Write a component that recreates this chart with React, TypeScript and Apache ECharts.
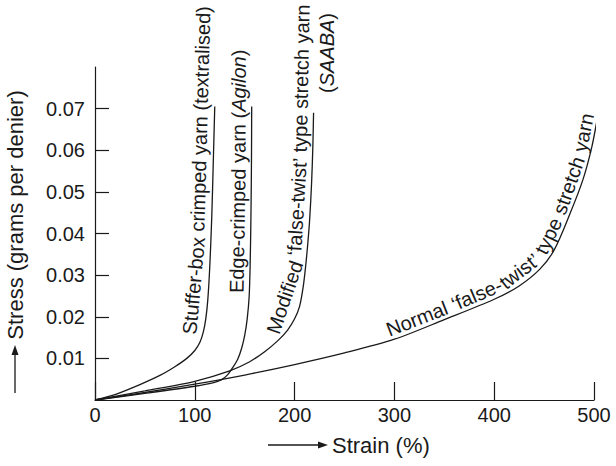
import React, { useEffect, useRef } from 'react';
import * as echarts from 'echarts';

// Stress (grams per denier) vs strain (%)
const stufferBox: number[][] = [[0,0],[20,0.0013],[45,0.0037],[65,0.0059],[80,0.008],[92,0.0100],[100,0.0119],[105,0.0138],[108.5,0.0163],[111,0.0195],[113,0.024],[115,0.032],[117,0.044],[118.5,0.057],[120,0.0705]];
const edgeCrimped: number[][] = [[0,0],[50,0.0016],[100,0.0033],[118,0.0041],[127,0.0049],[133,0.0061],[138,0.0078],[143,0.0098],[147,0.0125],[150,0.0155],[152.5,0.0195],[154.5,0.025],[155.5,0.033],[156.3,0.045],[156.8,0.058],[157,0.0705]];
const modifiedFalseTwist: number[][] = [[0,0],[50,0.0022],[100,0.0045],[135,0.0070],[155,0.0092],[170,0.0116],[183,0.0142],[193,0.0168],[200,0.0195],[205,0.0225],[208.5,0.027],[211,0.032],[213,0.037],[215,0.043],[217,0.052],[218.3,0.061],[219,0.069]];
const normalFalseTwist: number[][] = [[0,0],[50,0.0018],[100,0.0038],[150,0.006],[200,0.0085],[250,0.0113],[300,0.0146],[350,0.0193],[400,0.0242],[425,0.0274],[446,0.0315],[460,0.0360],[476,0.0448],[489,0.0530],[498,0.061],[504,0.0686]];

const yTicks = [0.01, 0.02, 0.03, 0.04, 0.05, 0.06, 0.07];
const xMax = 500;
const yMax = 0.08;

// A word: its parts [text, italic]; "join" means no space before the next word
type Part = [string, boolean];
type Word = { parts: Part[]; join?: boolean };
const w = (t: string, join = false): Word => ({ parts: [[t, false]], join });
const curveLabels: { curve: number[][]; startY: number; offset: number; words: Word[] }[] = [
  { curve: stufferBox, startY: 0.0149, offset: 14, words: [w('Stuffer-box'), w('crimped'), w('yarn'), w('(textralised)')] },
  { curve: edgeCrimped, startY: 0.026, offset: 13, words: [w('Edge-crimped'), w('yarn'), { parts: [['(', false], ['Agilon', true], [')', false]] }] },
  { curve: modifiedFalseTwist, startY: 0.0145, offset: 13, words: [w('Modified'), w('\u2018false-twist\u2019'), w('type'), w('stretch'), w('yarn')] },
  { curve: normalFalseTwist, startY: 0.0146, offset: 11, words: [w('Normal'), w('\u2018false-', true), w('twist\u2019'), w('type'), w('stretch'), w('yarn')] },
];

const FONT = '"Liberation Sans", Arial, Helvetica, sans-serif';
const INK = '#1a1a1a';
const LABEL_SIZE = 20;

function smoothPts(p: number[][], n = 12): number[][] {
  const out: number[][] = [];
  for (let i = 0; i < p.length - 1; i++) {
    const p0 = p[Math.max(0, i - 1)], p1 = p[i], p2 = p[i + 1], p3 = p[Math.min(p.length - 1, i + 2)];
    for (let k = 0; k < n; k++) {
      const t = k / n, t2 = t * t, t3 = t2 * t;
      const f = (a: number, b: number, c: number, d: number) =>
        0.5 * (2 * b + (-a + c) * t + (2 * a - 5 * b + 4 * c - d) * t2 + (-a + 3 * b - 3 * c + d) * t3);
      out.push([f(p0[0], p1[0], p2[0], p3[0]), f(p0[1], p1[1], p2[1], p3[1])]);
    }
  }
  out.push(p[p.length - 1]);
  return out;
}

export default function App() {
  const ref = useRef<HTMLDivElement>(null);
  useEffect(() => {
    const chart = echarts.init(ref.current!, null, { renderer: 'svg' });
    const mkSeries = (name: string, data: number[][]) => ({
      name, type: 'line', data, smooth: 0.3, symbol: 'none', showSymbol: false, clip: false, silent: true,
      lineStyle: { color: INK, width: 1.3 },
    });
    chart.setOption({
      animation: false,
      backgroundColor: '#ffffff',
      grid: { left: 95, right: 22, top: 67, bottom: 66, containLabel: false, outerBoundsMode: 'none' },
      xAxis: {
        type: 'value', min: 0, max: xMax, interval: 100,
        axisLine: { show: true, onZero: false, lineStyle: { color: INK, width: 1.2 } },
        axisTick: { show: true, inside: true, length: 18, lineStyle: { color: INK, width: 1.2 } },
        axisLabel: { fontSize: 20, color: INK, fontFamily: FONT, margin: 5 },
        splitLine: { show: false },
      },
      yAxis: {
        type: 'value', min: 0, max: yMax, interval: 0.01,
        axisLine: { show: true, lineStyle: { color: INK, width: 1.2 } },
        axisTick: { show: true, inside: true, length: 14, customValues: yTicks, lineStyle: { color: INK, width: 1.2 } },
        axisLabel: {
          fontSize: 20, color: INK, fontFamily: FONT, margin: 10, customValues: yTicks,
          formatter: (v: number) => (v <= 1e-9 || v >= yMax - 1e-9 ? '' : v.toFixed(2)),
        },
        splitLine: { show: false },
      },
      series: [
        mkSeries('Stuffer-box', stufferBox),
        mkSeries('Edge-crimped', edgeCrimped),
        mkSeries('Modified', modifiedFalseTwist),
        mkSeries('Normal', normalFalseTwist),
      ],
    });

    const ctx = document.createElement('canvas').getContext('2d')!;
    const tw = (t: string, italic: boolean) => {
      ctx.font = `${italic ? 'italic ' : ''}${LABEL_SIZE}px ${FONT}`;
      return ctx.measureText(t).width;
    };
    const toPx = (p: number[]) => chart.convertToPixel({ xAxisIndex: 0, yAxisIndex: 0 }, p) as number[];

    const graphics: any[] = [];
    curveLabels.forEach((lab) => {
      const px = lab.curve.map(toPx);
      const sm = smoothPts(px);
      const startPx = toPx([0, lab.startY])[1];
      let i0 = sm.findIndex((p) => p[1] <= startPx);
      if (i0 < 1) i0 = 1;
      const seg = sm.slice(i0 - 1);
      const path = seg.map((p, i) => {
        const a = seg[Math.max(0, i - 1)], b = seg[Math.min(seg.length - 1, i + 1)];
        let tx = b[0] - a[0], ty = b[1] - a[1];
        const L = Math.hypot(tx, ty) || 1; tx /= L; ty /= L;
        return [p[0] + lab.offset * ty, p[1] - lab.offset * tx];
      });
      const la = sm[sm.length - 3], lb = sm[sm.length - 1];
      const dx = lb[0] - la[0], dy = lb[1] - la[1], DL = Math.hypot(dx, dy) || 1;
      const last = path[path.length - 1];
      path.push([last[0] + (dx / DL) * 400, last[1] + (dy / DL) * 400]);
      const cum = [0];
      for (let i = 1; i < path.length; i++) cum.push(cum[i - 1] + Math.hypot(path[i][0] - path[i - 1][0], path[i][1] - path[i - 1][1]));
      const at = (s: number) => {
        let i = 1;
        while (i < cum.length - 1 && cum[i] < s) i++;
        const f = (s - cum[i - 1]) / ((cum[i] - cum[i - 1]) || 1);
        return [path[i - 1][0] + (path[i][0] - path[i - 1][0]) * f, path[i - 1][1] + (path[i][1] - path[i - 1][1]) * f];
      };
      const space = tw(' ', false);
      let s = 0;
      lab.words.forEach((word) => {
        const parts = word.parts;
        const wd = parts.reduce((acc, [t, it]) => acc + tw(t, it), 0);
        const p0 = at(s), p1 = at(s + wd), pc = at(s + wd / 2);
        const cx = 0.5 * (pc[0] + (p0[0] + p1[0]) / 2);
        const cy = 0.5 * (pc[1] + (p0[1] + p1[1]) / 2);
        const rot = -Math.atan2(p1[1] - p0[1], p1[0] - p0[0]);
        const hasItalic = parts.some((p) => p[1]);
        const style: any = {
          fill: INK, fontSize: LABEL_SIZE, fontFamily: FONT,
          align: 'center', verticalAlign: 'middle', textAlign: 'center', textVerticalAlign: 'middle',
        };
        if (hasItalic) {
          style.text = parts.map(([t, it]) => `{${it ? 'i' : 'n'}|${t}}`).join('');
          style.rich = {
            n: { fontSize: LABEL_SIZE, fontFamily: FONT, fill: INK },
            i: { fontSize: LABEL_SIZE, fontFamily: FONT, fontStyle: 'italic', fill: INK },
          };
        } else {
          style.text = parts.map((p) => p[0]).join('');
        }
        graphics.push({ type: 'text', x: cx, y: cy, rotation: rot, silent: true, style });
        s += wd + (word.join ? 0 : space);
      });
    });

    // "(SAABA)" second line of the modified yarn label
    graphics.push({
      type: 'text', x: 327, y: 53, rotation: Math.PI / 2, silent: true,
      style: {
        text: '{n|(}{i|SAABA}{n|)}', fill: INK, fontSize: LABEL_SIZE, fontFamily: FONT,
        align: 'center', verticalAlign: 'middle', textAlign: 'center', textVerticalAlign: 'middle',
        rich: {
          n: { fontSize: LABEL_SIZE, fontFamily: FONT, fill: INK },
          i: { fontSize: LABEL_SIZE, fontFamily: FONT, fontStyle: 'italic', fill: INK },
        },
      },
    });

    // Axis names with arrows
    graphics.push({
      type: 'text', x: 15, y: 215, rotation: Math.PI / 2, silent: true,
      style: { text: 'Stress (grams per denier)', fill: INK, fontSize: 22, fontFamily: FONT, align: 'center', verticalAlign: 'middle', textAlign: 'center', textVerticalAlign: 'middle' },
    });
    graphics.push({ type: 'line', silent: true, shape: { x1: 15, y1: 393, x2: 15, y2: 352 }, style: { stroke: INK, lineWidth: 1.3 } });
    graphics.push({ type: 'polygon', silent: true, shape: { points: [[15, 345], [11.5, 355], [18.5, 355]] }, style: { fill: INK } });

    graphics.push({
      type: 'text', x: 332, y: 445, silent: true,
      style: { text: 'Strain (%)', fill: INK, fontSize: 22, fontFamily: FONT, align: 'left', verticalAlign: 'middle', textAlign: 'left', textVerticalAlign: 'middle' },
    });
    graphics.push({ type: 'line', silent: true, shape: { x1: 268, y1: 445, x2: 321, y2: 445 }, style: { stroke: INK, lineWidth: 1.3 } });
    graphics.push({ type: 'polygon', silent: true, shape: { points: [[328, 445], [318, 441.5], [318, 448.5]] }, style: { fill: INK } });

    chart.setOption({ graphic: { elements: graphics } });
    return () => chart.dispose();
  }, []);
  return <div ref={ref} style={{ position: 'fixed', left: 0, top: 0, width: 616, height: 466 }} />;
}
